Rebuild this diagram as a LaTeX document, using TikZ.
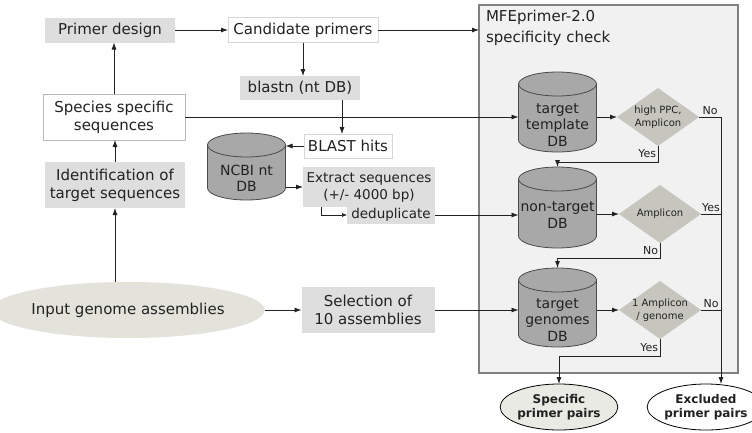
\documentclass[tikz,border=0pt]{standalone}
\usepackage{fontspec}
\setmainfont{DejaVu Sans}
\usetikzlibrary{shapes.geometric,arrows.meta}
\definecolor{boxgray}{HTML}{DEDEDE}
\definecolor{edgegray}{HTML}{B8B8B8}
\definecolor{faintedge}{HTML}{D6D6D6}
\definecolor{cylgray}{HTML}{A8A8A8}
\definecolor{cyledge}{HTML}{4A4A4A}
\definecolor{diagray}{HTML}{C6C6BE}
\definecolor{framefill}{HTML}{F1F1F1}
\definecolor{frameedge}{HTML}{808080}
\definecolor{ellgray}{HTML}{E3E3DC}
\definecolor{resgray}{HTML}{EAEAE4}
\definecolor{ink}{HTML}{222222}

% name, center, height, text shift, text
\newcommand\dbnode[5]{%
  \node[dbbox, minimum height=#3] (#1) at (#2) {};
  \filldraw[dbshape] ([yshift=-12pt]#1.north west) -- ([yshift=12pt]#1.south west)
     arc[start angle=180,end angle=360,x radius=39pt,y radius=12pt]
     -- ([yshift=-12pt]#1.north east)
     arc[start angle=0,end angle=180,x radius=39pt,y radius=12pt] -- cycle;
  \draw[dbshape, fill=none] ([yshift=-12pt]#1.north east)
     arc[start angle=0,end angle=-180,x radius=39pt,y radius=12pt];
  \node[dbtext] (#1-t) at ([yshift=#4]#1.center) {#5};
}
% name, center, text
\newcommand\decnode[3]{%
  \node[decbox] (#1) at (#2) {};
  \fill[diagray] (#1.west) -- (#1.north) -- (#1.east) -- (#1.south) -- cycle;
  \node[dectext] (#1-t) at (#1.center) {#3};
}

\begin{document}
\begin{tikzpicture}[x=1pt,y=1pt,
  base/.style={font=\fontsize{15}{18}\selectfont, inner sep=0pt, outer sep=0pt, align=center, text=ink},
  graybox/.style={base, fill=boxgray},
  whitebox/.style={base, fill=white, draw=edgegray, line width=0.6pt},
  faintbox/.style={base, fill=white, draw=faintedge, line width=0.5pt},
  smallbox/.style={base, fill=boxgray, font=\fontsize{13.5}{17}\selectfont},
  dbbox/.style={inner sep=0pt, outer sep=0pt, minimum width=78pt},
  dbshape/.style={fill=cylgray, draw=cyledge, line width=0.8pt},
  dbtext/.style={base, font=\fontsize{14}{16.5}\selectfont},
  decbox/.style={inner sep=0pt, outer sep=0pt, minimum width=82pt, minimum height=58pt},
  dectext/.style={base, font=\fontsize{10}{12.5}\selectfont},
  lbl/.style={base, font=\fontsize{11}{13}\selectfont, inner sep=2pt},
  arr/.style={draw=ink, line width=0.8pt, -{Latex[length=7pt,width=5pt]}},
  conn/.style={draw=ink, line width=0.8pt},
  result/.style={ellipse, base, font=\bfseries\fontsize{12}{14.5}\selectfont, draw=black,
                 line width=0.8pt, minimum width=92pt, minimum height=46pt}
]
\useasboundingbox (0,0) rectangle (752,-432);

% frame of the specificity check
\node[draw=frameedge, fill=framefill, line width=1.2pt, minimum width=259pt,
      minimum height=368pt, inner sep=0pt, outer sep=0pt] (mfe) at (608.5,-189) {};
\node[base, align=left, anchor=north west, font=\fontsize{15}{21}\selectfont]
      (mfe-title) at (486,-10) {MFEprimer-2.0\\specificity check};

% left part
\node[graybox, minimum width=130pt, minimum height=25pt] (prim) at (110,-30) {Primer design};
\node[faintbox, minimum width=150pt, minimum height=25pt] (cand) at (303,-30) {Candidate primers};
\node[graybox, minimum width=120pt, minimum height=24pt] (blastn) at (300,-88) {blastn (nt DB)};
\node[whitebox, minimum width=142pt, minimum height=46pt] (spec) at (114,-117) {Species specific\\sequences};
\node[graybox, minimum width=140pt, minimum height=46pt] (ident) at (115,-185) {Identification of\\target sequences};
\node[faintbox, minimum width=88pt, minimum height=24pt] (hits) at (348,-146) {BLAST hits};
\dbnode{ncbi}{246.5,-166.5}{67pt}{-12pt}{NCBI nt\\DB}
\node[smallbox, minimum width=132pt, minimum height=40pt] (extract) at (369,-187) {Extract sequences\\(+/- 4000 bp)};
\node[smallbox, minimum width=88pt, minimum height=18pt] (dedup) at (391,-215) {deduplicate};
\node[graybox, minimum width=133pt, minimum height=46pt] (sel) at (368,-310) {Selection of\\10 assemblies};
\node[base, ellipse, fill=ellgray, minimum width=233pt, minimum height=56pt] (input) at (128,-310) {Input genome assemblies};

% databases and decisions
\dbnode{tmpl}{557.5,-112}{80pt}{-13pt}{target\\template\\DB}
\dbnode{nontgt}{557.5,-207.5}{81pt}{-7.5pt}{non-target\\DB}
\dbnode{gen}{557.5,-307.5}{79pt}{-12.5pt}{target\\genomes\\DB}
\decnode{d1}{658,-117}{high PPC,\\Amplicon}
\decnode{d2}{660,-214}{Amplicon}
\decnode{d3}{660,-310}{1 Amplicon\\/ genome}

% results
\node[result, fill=resgray] (spp) at (559,-407) {Specific\\primer pairs};
\node[result, fill=white] (excl) at (706,-407) {Excluded\\primer pairs};
\coordinate (excl-in) at ([xshift=15pt]excl.north);

% connectors, left part
\draw[arr] (prim.east) -- (cand.west);
\draw[arr] (cand.east) -- (cand.east -| mfe.west);
\draw[arr] (cand.south) -- (cand.south |- blastn.north);
\draw[arr] ([xshift=-6pt]hits.north |- blastn.south) -- ([xshift=-6pt]hits.north);
\draw[arr] (hits.west) -- (hits.west -| ncbi.east);
\draw[arr] (ncbi.east |- extract.west) -- (extract.west);
\draw[arr, line width=0.6pt, -{Latex[length=5pt,width=4pt]}] ([xshift=-48pt]extract.south) |- (dedup.west);
\draw[arr] (dedup.east) -- (dedup.east -| nontgt.west);
\draw[arr] (spec.north) -- (spec.north |- prim.south);
\draw[arr] (spec.east) -- (spec.east -| tmpl.west);
\draw[arr] (ident.north) -- (ident.north |- spec.south);
\draw[arr] (input.north -| ident.south) -- (ident.south);
\draw[arr] (input.east) -- (sel.west);
\draw[arr] (sel.east) -- (sel.east -| gen.west);

% connectors, specificity check
\draw[arr] (tmpl.east |- d1.west) -- (d1.west);
\draw[arr] (nontgt.east |- d2.west) -- (d2.west);
\draw[arr] (gen.east |- d3.west) -- (d3.west);

\draw[arr] (d1.east) -- node[lbl, above] (no1) {No} (d1.east -| excl-in) -- (excl-in);
\draw[conn] (d2.east) -- node[lbl, above] (yes2) {Yes} (d2.east -| excl-in);
\draw[conn] (d3.east) -- node[lbl, above] (no3) {No} (d3.east -| excl-in);

\draw[arr] (d1.south) -- node[lbl, left] (yes1) {Yes} ++(0,-16) -| (nontgt.north);
\draw[arr] (d2.south) -- node[lbl, left] (no2) {No} ++(0,-15) -| (gen.north);
\draw[arr] (d3.south) -- node[lbl, left] (yes3) {Yes} ++(0,-17) -| (spp.north);
\end{tikzpicture}
\end{document}
